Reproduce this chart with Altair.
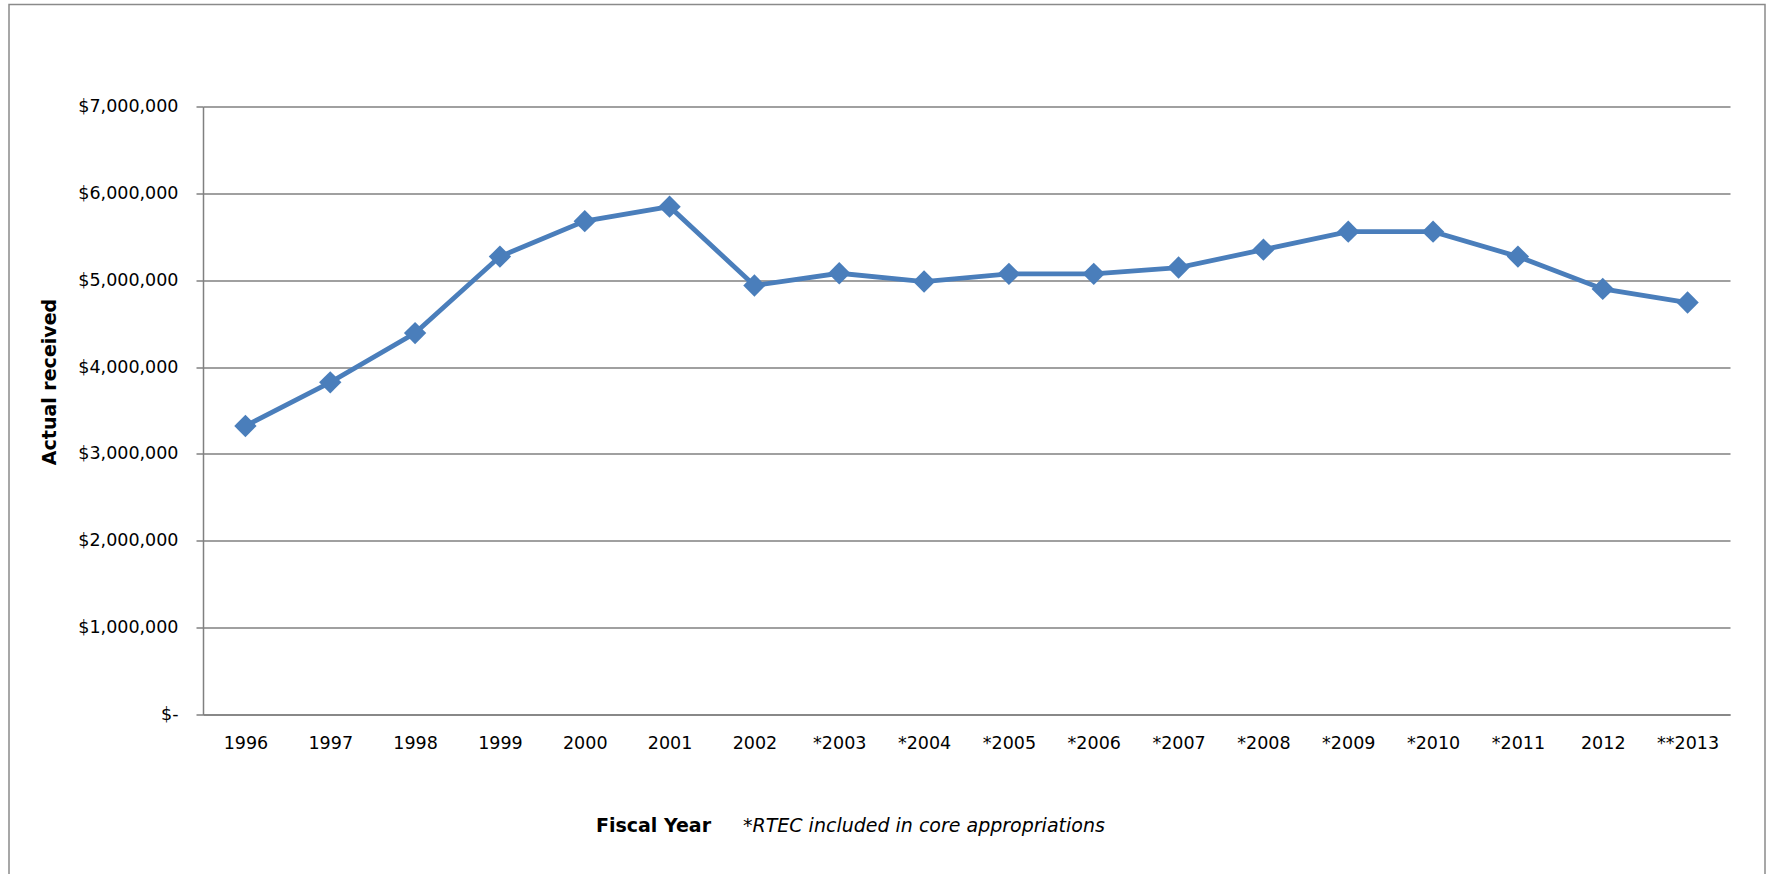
import altair as alt
import pandas as pd

# ---- data ----
years = ["1996", "1997", "1998", "1999", "2000", "2001", "2002", "*2003", "*2004",
         "*2005", "*2006", "*2007", "*2008", "*2009", "*2010", "*2011", "2012", "**2013"]
received = [3322000, 3824000, 4391000, 5272000, 5680000, 5847000, 4939000, 5080000,
            4985000, 5073000, 5073000, 5146000, 5352000, 5559000, 5559000, 5272000,
            4900000, 4743000]
y_ticks = [0, 1000000, 2000000, 3000000, 4000000, 5000000, 6000000, 7000000]
note_text = ["*RTEC included in core appropriations"]

df = pd.DataFrame({"year": years, "received": received})

BLUE = "#4A7EBB"
GRAY = "#808080"

x_scale = alt.Scale(type="point", padding=0.5, domain=years)
x_enc = alt.X(
    "year:N",
    sort=years,
    scale=x_scale,
    axis=alt.Axis(
        title="Fiscal Year",
        labelAngle=0,
        ticks=False,
        grid=False,
        labelPadding=20,
        labelFont="DejaVu Sans",
        labelFontSize=17.5,
        labelColor="black",
        domainColor=GRAY,
        domainWidth=1.5,
        titleFont="DejaVu Sans",
        titleFontSize=19,
        titleFontWeight="bold",
        titleColor="black",
        titleX=450,
        titleY=111,
        titleAlign="center",
        titleBaseline="middle",
    ),
)
y_enc = alt.Y(
    "received:Q",
    scale=alt.Scale(domain=[0, 7000000], nice=False, zero=True),
    axis=alt.Axis(
        title="Actual received",
        values=y_ticks,
        labelExpr="datum.value == 0 ? '$-' : '$' + format(datum.value, ',')",
        grid=True,
        gridColor=GRAY,
        gridWidth=1.5,
        tickColor=GRAY,
        tickSize=7,
        tickWidth=1.5,
        domainColor=GRAY,
        domainWidth=1.5,
        labelPadding=18,
        labelFont="DejaVu Sans",
        labelFontSize=17.5,
        labelColor="black",
        titleFont="DejaVu Sans",
        titleFontSize=19,
        titleFontWeight="bold",
        titleColor="black",
        titleAngle=270,
        titleX=-154,
        titleY=275,
        titleAlign="center",
        titleBaseline="middle",
    ),
)

border = alt.Chart(pd.DataFrame({"a": [0]})).mark_rect(
    fillOpacity=0, stroke="#8a8a8a", strokeWidth=1.5
).encode(
    x=alt.value(-194), x2=alt.value(1562), y=alt.value(-102), y2=alt.value(820)
)

base = alt.Chart(df)
line = base.mark_line(color=BLUE, strokeWidth=4.8).encode(x=x_enc, y=y_enc)
points = base.mark_point(
    shape="diamond", filled=True, color=BLUE, size=500, opacity=1
).encode(x=x_enc, y=y_enc)

note = alt.Chart(pd.DataFrame({"note": note_text})).mark_text(
    align="left", baseline="middle", font="DejaVu Sans", fontSize=19,
    fontStyle="italic", color="black"
).encode(text="note:N", x=alt.value(540), y=alt.value(719))

chart = alt.layer(border, line, points, note).properties(
    width=1527,
    height=608,
    autosize=alt.AutoSizeParams(type="none"),
    padding={"left": 203, "top": 106.5, "right": 37, "bottom": 159.5},
    background="white",
).configure_view(stroke=None)

chart.save("out.html", embed_options={"renderer": "svg", "actions": False})
